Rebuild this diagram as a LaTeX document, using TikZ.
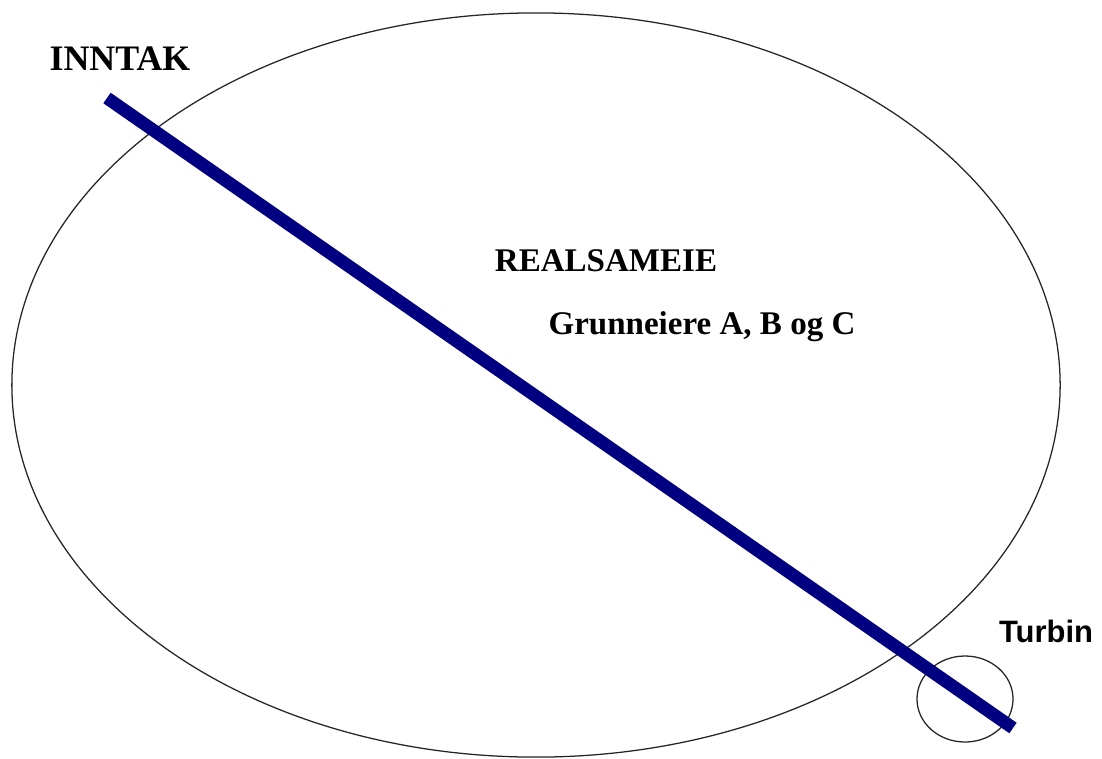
\documentclass[tikz,border=0pt]{standalone}
\usepackage{fontspec}
\setmainfont{Liberation Serif}
\newfontfamily\arialfont{Liberation Sans}
\usetikzlibrary{positioning}
\definecolor{navy}{RGB}{0,0,128}

\begin{document}
\begin{tikzpicture}[x=0.025cm, y=-0.025cm]
\tikzset{
  tekst/.style={font=\fontsize{23.5}{28}\selectfont\bfseries, inner sep=0pt},
  pipe/.style={line width=0.32cm, color=navy, line cap=butt},
  rim/.style={draw=black!85, line width=0.9pt}
}
\useasboundingbox (0,0) rectangle (1102,758);
\fill[white] (0,0) rectangle (1102,758);
\draw[rim] (536,385) ellipse (13.1cm and 9.3cm);
\draw[rim] (965,699) ellipse (1.2cm and 1.075cm);
\coordinate (inntak) at (107,98);
\coordinate (utlop) at (1013,728);
\draw[pipe] (inntak) -- (utlop);
\node[tekst, font=\fontsize{25.5}{30}\selectfont\bfseries] (inn) at (120,59) {INNTAK};
\node[tekst] (real) at (606,261) {REALSAMEIE};
\node[tekst] (grunn) at (702,327) {Grunneiere A, B og C};
\node[tekst, font=\fontsize{22}{26}\selectfont\arialfont\bfseries] (turb) at (1046,631) {Turbin};
\end{tikzpicture}
\end{document}
